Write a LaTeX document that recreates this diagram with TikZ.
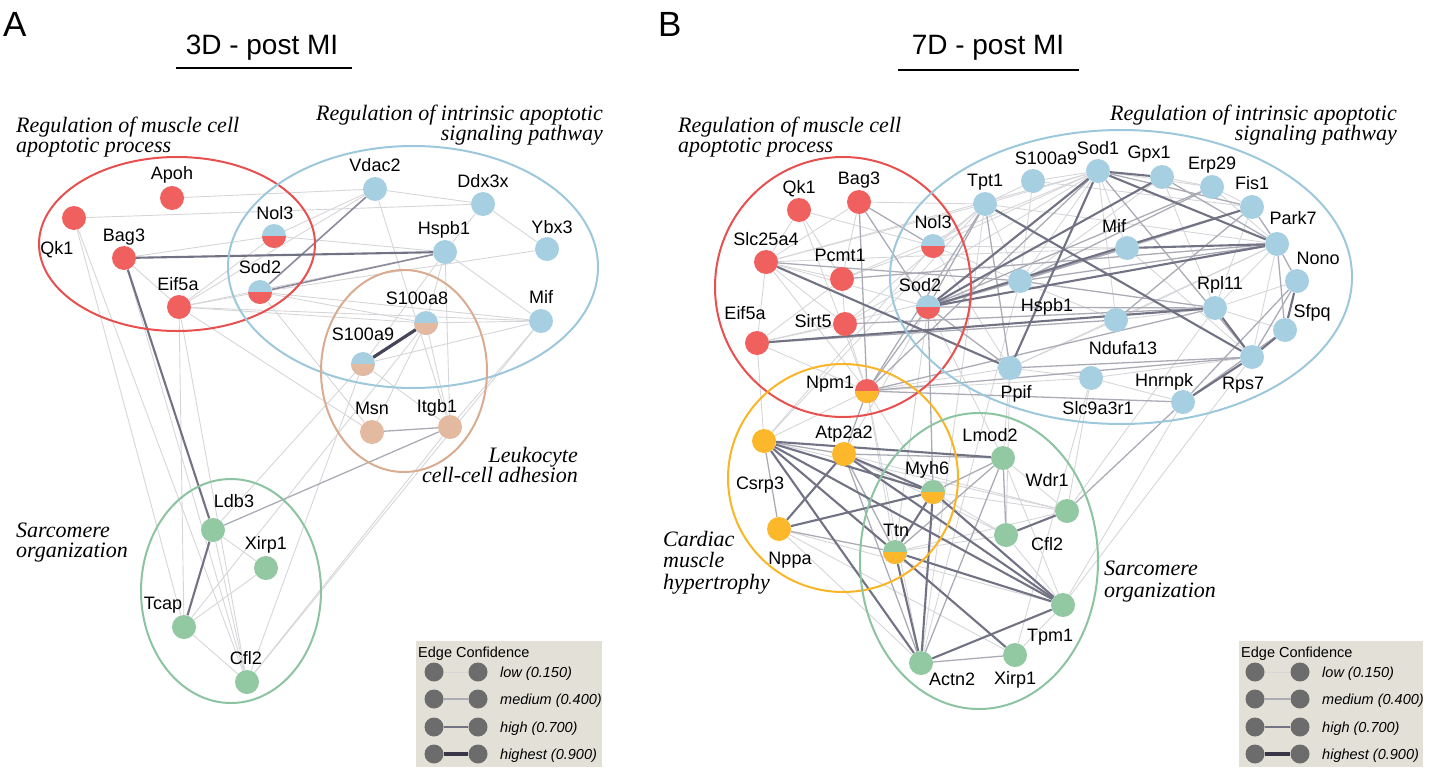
\documentclass[tikz,border=0pt]{standalone}
\usepackage{fontspec}
\setmainfont{Liberation Sans}
\newfontfamily\serifgrp{Liberation Serif}
\usetikzlibrary{backgrounds}
\definecolor{cred}{HTML}{F0605E}
\definecolor{cblue}{HTML}{A6CFE2}
\definecolor{cbrown}{HTML}{E3B9A0}
\definecolor{cgreen}{HTML}{92C8A2}
\definecolor{cyel}{HTML}{FCB82A}
\definecolor{ered}{HTML}{E8504F}
\definecolor{eblue}{HTML}{9DC8DC}
\definecolor{ebrown}{HTML}{D9AC92}
\definecolor{egreen}{HTML}{8CC3A0}
\definecolor{eyel}{HTML}{F9B526}
\definecolor{elow}{HTML}{D6D6DA}
\definecolor{emed}{HTML}{ABABB5}
\definecolor{emh}{HTML}{8A8A9C}
\definecolor{ehigh}{HTML}{727285}
\definecolor{ehst}{HTML}{45455A}
\definecolor{legbg}{HTML}{E3E1D7}
\definecolor{legdot}{HTML}{6C6C6C}
\newcommand\nlabfont{\fontsize{18bp}{20bp}\selectfont}
\newcommand\ngrpfont{\serifgrp\itshape\fontsize{22bp}{20bp}\selectfont}
\newcommand\ntitlefont{\fontsize{28bp}{30bp}\selectfont}
\newcommand\npanelfont{\fontsize{35bp}{36bp}\selectfont}
\newcommand\nlegtitle{\fontsize{14.5bp}{16bp}\selectfont}
\newcommand\nlegtext{\itshape\fontsize{14.5bp}{16bp}\selectfont}
\tikzset{
  gn/.style={circle, minimum size=24bp, inner sep=0pt, draw=none},
  rn/.style={gn, fill=cred},
  bn/.style={gn, fill=cblue},
  brn/.style={gn, fill=cbrown},
  grn/.style={gn, fill=cgreen},
  yn/.style={gn, fill=cyel},
  splitn/.style 2 args={gn, fill=#1, path picture={\fill[#2] (path picture bounding box.west) rectangle (path picture bounding box.south east);}},
  lab/.style={font=\nlabfont, inner sep=0pt, text height=13bp, text depth=0pt},
  grp/.style={font=\ngrpfont, inner sep=0pt},
  elo/.style={draw=elow, line width=0.9bp},
  emd/.style={draw=emed, line width=1.3bp},
  emhi/.style={draw=emh, line width=1.6bp},
  ehi/.style={draw=ehigh, line width=2.1bp},
  ehx/.style={draw=ehst, line width=3.2bp},
  ring/.style={line width=2bp},
  legdotn/.style={circle, minimum size=19bp, inner sep=0pt, fill=legdot},
  legtxt/.style={font=\nlegtext, anchor=base west, inner sep=0pt},
}
\begin{document}
\begin{tikzpicture}[x=1bp, y=-1bp]
\useasboundingbox (0,0) rectangle (1429,772);
% ---------------- Panel A ----------------
\node[font=\npanelfont, anchor=base west, inner sep=0pt] (pA) at (3,37) {A};
\node[font=\ntitlefont, anchor=base, inner sep=0pt] (tA) at (262,55) {3D - post MI};
\draw[line width=2.6bp] (176,68) -- (352,68);
% ellipses
\draw[ring, ered] (177,244) ellipse [x radius=138, y radius=87];
\draw[ring, eblue] (413,267) ellipse [x radius=185, y radius=121];
\draw[ring, ebrown] (404,371) ellipse [x radius=83, y radius=101];
\draw[ring, egreen] (231,591) ellipse [x radius=90, y radius=112];
% group labels
\node[grp, anchor=base west] (gA1a) at (16,132) {Regulation of muscle cell};
\node[grp, anchor=base west] (gA1b) at (16,152) {apoptotic process};
\node[grp, anchor=base east] (gA2a) at (603,120) {Regulation of intrinsic apoptotic};
\node[grp, anchor=base east] (gA2b) at (603,140) {signaling pathway};
\node[grp, anchor=base east] (gA3a) at (578,462) {Leukocyte};
\node[grp, anchor=base east] (gA3b) at (578,482) {cell-cell adhesion};
\node[grp, anchor=base west] (gA4a) at (16,537) {Sarcomere};
\node[grp, anchor=base west] (gA4b) at (16,557) {organization};
% nodes
\node[rn] (aApoh) at (172,198) {};
\node[rn] (aQk1) at (74,218) {};
\node[rn] (aBag3) at (124,258) {};
\node[rn] (aEif5a) at (179,307) {};
\node[splitn={cblue}{cred}] (aNol3) at (274,236) {};
\node[splitn={cblue}{cred}] (aSod2) at (260,292) {};
\node[bn] (aVdac2) at (375,189) {};
\node[bn] (aDdx3x) at (483,204) {};
\node[bn] (aHspb1) at (445,252) {};
\node[bn] (aYbx3) at (547,249) {};
\node[bn] (aMif) at (541,321) {};
\node[splitn={cblue}{cbrown}] (aS100a8) at (426,323) {};
\node[splitn={cblue}{cbrown}] (aS100a9) at (363,364) {};
\node[brn] (aMsn) at (372,432) {};
\node[brn] (aItgb1) at (450,427) {};
\node[grn] (aLdb3) at (213,530) {};
\node[grn] (aXirp1) at (266,568) {};
\node[grn] (aTcap) at (184,627) {};
\node[grn] (aCfl2) at (247,682) {};
% labels
\node[lab] (laApoh) at (172,173) {Apoh};
\node[lab] (laQk1) at (57,248) {Qk1};
\node[lab] (laBag3) at (124,235) {Bag3};
\node[lab] (laEif5a) at (178,284) {Eif5a};
\node[lab] (laNol3) at (275,213) {Nol3};
\node[lab] (laSod2) at (260,267) {Sod2};
\node[lab] (laVdac2) at (375,165) {Vdac2};
\node[lab] (laDdx3x) at (483,181) {Ddx3x};
\node[lab] (laHspb1) at (444,228) {Hspb1};
\node[lab] (laYbx3) at (552,227) {Ybx3};
\node[lab] (laMif) at (541,297) {Mif};
\node[lab] (laS100a8) at (417,298) {S100a8};
\node[lab] (laS100a9) at (363,334) {S100a9};
\node[lab] (laMsn) at (372,408) {Msn};
\node[lab] (laItgb1) at (437,406) {Itgb1};
\node[lab] (laLdb3) at (234,501) {Ldb3};
\node[lab] (laXirp1) at (266,543) {Xirp1};
\node[lab] (laTcap) at (163,603) {Tcap};
\node[lab] (laCfl2) at (246,658) {Cfl2};
% edges A
\begin{scope}[on background layer]
\foreach \a/\b in {aApoh/aVdac2, aQk1/aDdx3x, aQk1/aCfl2, aQk1/aTcap, aBag3/aNol3, aBag3/aEif5a, aBag3/aCfl2, aEif5a/aNol3, aEif5a/aSod2, aEif5a/aHspb1, aEif5a/aVdac2, aEif5a/aMif, aEif5a/aS100a8, aEif5a/aMsn, aEif5a/aTcap, aEif5a/aCfl2, aNol3/aVdac2, aNol3/aHspb1, aSod2/aMif, aSod2/aS100a8, aSod2/aMsn, aSod2/aYbx3, aVdac2/aDdx3x, aVdac2/aItgb1, aDdx3x/aHspb1, aDdx3x/aYbx3, aHspb1/aMif, aHspb1/aS100a8, aHspb1/aS100a9, aHspb1/aItgb1, aS100a8/aMif, aS100a9/aMif, aS100a8/aMsn, aS100a8/aItgb1, aS100a9/aItgb1, aMif/aItgb1, aMif/aCfl2, aItgb1/aCfl2, aS100a8/aTcap, aS100a9/aCfl2, aS100a9/aLdb3, aLdb3/aXirp1, aTcap/aXirp1, aTcap/aCfl2, aLdb3/aCfl2}
  \draw[elo] (\a) -- (\b);
\foreach \a/\b in {aMsn/aItgb1, aItgb1/aLdb3}
  \draw[emd] (\a) -- (\b);
\foreach \a/\b in {aSod2/aVdac2, aSod2/aHspb1}
  \draw[emhi] (\a) -- (\b);
\foreach \a/\b in {aBag3/aHspb1, aBag3/aLdb3, aLdb3/aTcap}
  \draw[ehi] (\a) -- (\b);
\draw[ehx] (aS100a8) -- (aS100a9);
\end{scope}
% legend A
\fill[legbg] (416,641) rectangle (602,767);
\node[font=\nlegtitle, anchor=base west, inner sep=0pt] (legAt) at (418,657) {Edge Confidence};
\node[legdotn] (lA1a) at (434,672) {}; \node[legdotn] (lA1b) at (478,672) {};
\node[legdotn] (lA2a) at (434,699) {}; \node[legdotn] (lA2b) at (478,699) {};
\node[legdotn] (lA3a) at (434,727) {}; \node[legdotn] (lA3b) at (478,727) {};
\node[legdotn] (lA4a) at (434,754) {}; \node[legdotn] (lA4b) at (478,754) {};
\draw[draw=elow, line width=1bp] (lA1a) -- (lA1b);
\draw[draw=emed, line width=1.6bp] (lA2a) -- (lA2b);
\draw[draw=ehigh, line width=2.6bp] (lA3a) -- (lA3b);
\draw[draw=ehst!80!black, line width=3.4bp] (lA4a) -- (lA4b);
\node[legtxt] (lAt1) at (500,677) {low (0.150)};
\node[legtxt] (lAt2) at (500,704) {medium (0.400)};
\node[legtxt] (lAt3) at (500,732) {high (0.700)};
\node[legtxt] (lAt4) at (500,759) {highest (0.900)};
% ---------------- Panel B ----------------
\node[font=\npanelfont, anchor=base west, inner sep=0pt] (pB) at (658,37) {B};
\node[font=\ntitlefont, anchor=base, inner sep=0pt] (tB) at (988,55) {7D - post MI};
\draw[line width=2.6bp] (898,70) -- (1079,70);
\draw[ring, ered] (843,287) ellipse [x radius=128, y radius=130];
\draw[ring, eblue] (1121,277) ellipse [x radius=231, y radius=147];
\draw[ring, eyel] (843,478) ellipse [x radius=115, y radius=114];
\draw[ring, egreen] (979,561) ellipse [x radius=119, y radius=148];
\node[grp, anchor=base west] (gB1a) at (678,132) {Regulation of muscle cell};
\node[grp, anchor=base west] (gB1b) at (678,152) {apoptotic process};
\node[grp, anchor=base east] (gB2a) at (1397,120) {Regulation of intrinsic apoptotic};
\node[grp, anchor=base east] (gB2b) at (1397,140) {signaling pathway};
\node[grp, anchor=base west] (gB3a) at (663,546) {Cardiac};
\node[grp, anchor=base west] (gB3b) at (663,567) {muscle};
\node[grp, anchor=base west] (gB3c) at (663,589) {hypertrophy};
\node[grp, anchor=base west] (gB4a) at (1104,575) {Sarcomere};
\node[grp, anchor=base west] (gB4b) at (1104,597) {organization};
% nodes B
\node[rn] (bQk1) at (799,210) {};
\node[rn] (bBag3) at (859,202) {};
\node[rn] (bSlc) at (766,262) {};
\node[rn] (bPcmt) at (842,279) {};
\node[rn] (bEif) at (757,343) {};
\node[rn] (bSirt) at (845,324) {};
\node[splitn={cblue}{cred}] (bNol3) at (933,246) {};
\node[splitn={cblue}{cred}] (bSod2) at (928,307) {};
\node[splitn={cred}{cyel}] (bNpm1) at (867,391) {};
\node[bn] (bTpt1) at (985,204) {};
\node[bn] (bS100) at (1033,181) {};
\node[bn] (bSod1) at (1098,171) {};
\node[bn] (bGpx1) at (1162,177) {};
\node[bn] (bErp) at (1212,187) {};
\node[bn] (bFis) at (1252,207) {};
\node[bn] (bPark) at (1277,244) {};
\node[bn] (bNono) at (1297,281) {};
\node[bn] (bSfpq) at (1285,330) {};
\node[bn] (bRps7) at (1252,357) {};
\node[bn] (bRpl) at (1215,308) {};
\node[bn] (bMif) at (1127,248) {};
\node[bn] (bHspb) at (1020,281) {};
\node[bn] (bNduf) at (1116,320) {};
\node[bn] (bPpif) at (1010,368) {};
\node[bn] (bSlc9) at (1091,378) {};
\node[bn] (bHnr) at (1183,402) {};
\node[yn] (bCsrp) at (764,441) {};
\node[yn] (bAtp) at (844,454) {};
\node[yn] (bNppa) at (779,529) {};
\node[splitn={cgreen}{cyel}] (bMyh6) at (933,492) {};
\node[splitn={cgreen}{cyel}] (bTtn) at (895,552) {};
\node[grn] (bLmod) at (1003,458) {};
\node[grn] (bWdr) at (1067,511) {};
\node[grn] (bCfl) at (1006,535) {};
\node[grn] (bTpm) at (1063,605) {};
\node[grn] (bXirp) at (1015,655) {};
\node[grn] (bActn) at (921,663) {};
% labels B
\node[lab] (lbQk1) at (799,187) {Qk1};
\node[lab] (lbBag3) at (859,178) {Bag3};
\node[lab] (lbSlc) at (766,239) {Slc25a4};
\node[lab] (lbPcmt) at (840,255) {Pcmt1};
\node[lab] (lbEif) at (745,313) {Eif5a};
\node[lab] (lbSirt) at (813,321) {Sirt5};
\node[lab] (lbNol3) at (933,222) {Nol3};
\node[lab] (lbSod2) at (920,285) {Sod2};
\node[lab] (lbNpm1) at (830,382) {Npm1};
\node[lab] (lbTpt1) at (985,180) {Tpt1};
\node[lab] (lbS100) at (1046,158) {S100a9};
\node[lab] (lbSod1) at (1098,148) {Sod1};
\node[lab] (lbGpx1) at (1149,152) {Gpx1};
\node[lab] (lbErp) at (1212,163) {Erp29};
\node[lab] (lbFis) at (1252,183) {Fis1};
\node[lab] (lbPark) at (1293,218) {Park7};
\node[lab] (lbNono) at (1318,258) {Nono};
\node[lab] (lbSfpq) at (1312,311) {Sfpq};
\node[lab] (lbRps7) at (1243,383) {Rps7};
\node[lab] (lbRpl) at (1220,283) {Rpl11};
\node[lab] (lbMif) at (1114,226) {Mif};
\node[lab] (lbHspb) at (1047,305) {Hspb1};
\node[lab] (lbNduf) at (1123,348) {Ndufa13};
\node[lab] (lbPpif) at (1016,392) {Ppif};
\node[lab] (lbSlc9) at (1098,408) {Slc9a3r1};
\node[lab] (lbHnr) at (1164,380) {Hnrnpk};
\node[lab] (lbCsrp) at (760,483) {Csrp3};
\node[lab] (lbAtp) at (844,432) {Atp2a2};
\node[lab] (lbNppa) at (790,558) {Nppa};
\node[lab] (lbMyh6) at (927,468) {Myh6};
\node[lab] (lbTtn) at (896,530) {Ttn};
\node[lab] (lbLmod) at (990,435) {Lmod2};
\node[lab] (lbWdr) at (1047,480) {Wdr1};
\node[lab] (lbCfl) at (1047,544) {Cfl2};
\node[lab] (lbTpm) at (1050,635) {Tpm1};
\node[lab] (lbXirp) at (1015,678) {Xirp1};
\node[lab] (lbActn) at (952,679) {Actn2};
% edges B
\begin{scope}[on background layer]
\foreach \a/\b in {bQk1/bPcmt, bQk1/bNol3, bQk1/bNpm1, bQk1/bSlc, bBag3/bTpt1, bBag3/bSlc, bBag3/bPcmt, bSlc/bTpt1, bSlc/bSod1, bSlc/bMif, bSlc/bPcmt, bSlc/bEif, bSlc/bSirt, bSlc/bNpm1, bSlc/bSod2, bPcmt/bSod1, bPcmt/bNol3, bPcmt/bSirt, bSirt/bSod1, bSirt/bTpt1, bSirt/bNpm1, bEif/bSirt, bEif/bNpm1, bEif/bCsrp, bEif/bPcmt, bEif/bHspb, bNol3/bTpt1, bNol3/bSod1, bNol3/bHspb, bNol3/bPpif, bNol3/bMif, bTpt1/bSod1, bTpt1/bHspb, bTpt1/bS100, bTpt1/bPark, bS100/bSod1, bS100/bHspb, bS100/bFis, bSod1/bHspb, bSod1/bMif, bSod1/bErp, bSod1/bNduf, bGpx1/bErp, bGpx1/bHspb, bGpx1/bRpl, bErp/bFis, bErp/bPark, bFis/bRpl, bFis/bMif, bPark/bRpl, bPark/bRps7, bPark/bPpif, bPark/bNduf, bNono/bRpl, bMif/bHspb, bMif/bRps7, bHspb/bNduf, bRpl/bNduf, bRpl/bSfpq, bRps7/bSlc9, bNduf/bPpif, bPpif/bNpm1, bPpif/bSlc9, bSlc9/bNpm1, bSlc9/bHnr, bNpm1/bMyh6, bNpm1/bCsrp, bNpm1/bTtn, bSod2/bAtp, bSod2/bTtn, bSod2/bLmod, bHspb/bActn, bTpt1/bActn, bNol3/bCsrp, bAtp/bCfl, bAtp/bWdr, bNppa/bActn, bNppa/bTpm, bNppa/bXirp, bMyh6/bCfl, bTtn/bWdr, bTtn/bCfl, bLmod/bTpm, bLmod/bWdr, bCfl/bTpm, bTpm/bXirp, bTpm/bRps7, bWdr/bRpl, bCfl/bPpif, bTpm/bHnr, bXirp/bSlc9, bLmod/bPpif, bCsrp/bTpt1, bActn/bNpm1, bWdr/bSlc9, bMyh6/bWdr, bCsrp/bWdr}
  \draw[elo] (\a) -- (\b);
\foreach \a/\b in {bBag3/bNol3, bBag3/bNpm1, bBag3/bSod2, bSlc/bHspb, bPcmt/bPark, bSirt/bRpl, bSod2/bMif, bSod2/bRpl, bSod2/bTpt1, bSod2/bErp, bSod2/bHspb, bSod2/bPpif, bSod2/bNpm1, bSod2/bMyh6, bTpt1/bPpif, bTpt1/bNpm1, bSod1/bFis, bSod1/bRps7, bSod1/bNpm1, bGpx1/bPark, bErp/bHspb, bFis/bPark, bFis/bHspb, bFis/bNduf, bPark/bNono, bPark/bSfpq, bPark/bHspb, bNono/bRps7, bNono/bHnr, bSfpq/bHnr, bRpl/bHspb, bRpl/bNpm1, bRps7/bPpif, bRps7/bNpm1, bHnr/bNpm1, bHnr/bWdr, bNpm1/bAtp, bCsrp/bNppa, bCsrp/bAtp, bAtp/bLmod, bAtp/bTtn, bAtp/bActn, bNppa/bTtn, bMyh6/bLmod, bTtn/bLmod, bLmod/bCfl, bLmod/bActn, bActn/bXirp, bEif/bNduf}
  \draw[emd] (\a) -- (\b);
\foreach \a/\b in {bSlc/bPpif, bEif/bRpl, bSod2/bSod1, bSod2/bGpx1, bSod2/bPark, bSod2/bFis, bTpt1/bRps7, bSod1/bGpx1, bSod1/bPark, bSod1/bPpif, bPark/bMif, bNono/bSfpq, bSfpq/bRps7, bRpl/bRps7, bRps7/bHnr, bCsrp/bLmod, bCsrp/bMyh6, bCsrp/bTtn, bCsrp/bTpm, bCsrp/bActn, bAtp/bMyh6, bAtp/bTpm, bAtp/bNppa, bNppa/bMyh6, bMyh6/bTtn, bMyh6/bActn, bMyh6/bTpm, bTtn/bActn, bTtn/bTpm, bTtn/bXirp, bCfl/bWdr, bTpm/bActn}
  \draw[ehi] (\a) -- (\b);
\end{scope}
% legend B
\fill[legbg] (1239,641) rectangle (1423,767);
\node[font=\nlegtitle, anchor=base west, inner sep=0pt] (legBt) at (1241,657) {Edge Confidence};
\node[legdotn] (lB1a) at (1255,672) {}; \node[legdotn] (lB1b) at (1300,672) {};
\node[legdotn] (lB2a) at (1255,699) {}; \node[legdotn] (lB2b) at (1300,699) {};
\node[legdotn] (lB3a) at (1255,727) {}; \node[legdotn] (lB3b) at (1300,727) {};
\node[legdotn] (lB4a) at (1255,754) {}; \node[legdotn] (lB4b) at (1300,754) {};
\draw[draw=elow, line width=1bp] (lB1a) -- (lB1b);
\draw[draw=emed, line width=1.6bp] (lB2a) -- (lB2b);
\draw[draw=ehigh, line width=2.6bp] (lB3a) -- (lB3b);
\draw[draw=ehst!80!black, line width=3.4bp] (lB4a) -- (lB4b);
\node[legtxt] (lBt1) at (1322,677) {low (0.150)};
\node[legtxt] (lBt2) at (1322,704) {medium (0.400)};
\node[legtxt] (lBt3) at (1322,732) {high (0.700)};
\node[legtxt] (lBt4) at (1322,759) {highest (0.900)};
\end{tikzpicture}
\end{document}
